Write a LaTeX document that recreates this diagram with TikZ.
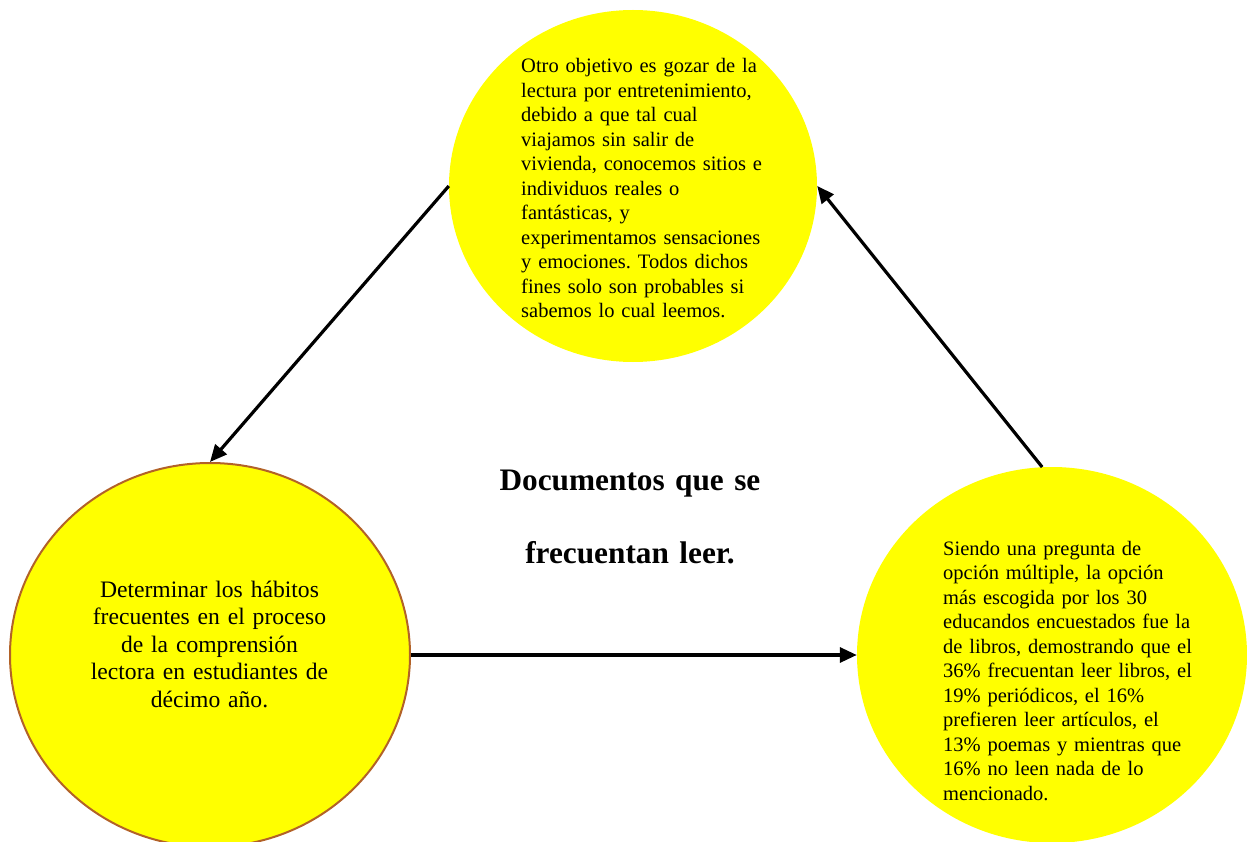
\documentclass[tikz,border=0pt]{standalone}
\usepackage{fontspec}
\setmainfont{Liberation Serif}
\usetikzlibrary{shapes.geometric,arrows.meta}
\definecolor{fillyellow}{RGB}{255,255,0}
\definecolor{rimbrown}{RGB}{178,98,40}
\frenchspacing
\begin{document}
\begin{tikzpicture}[x=1pt,y=-1pt,
  bubble/.style={ellipse,fill=fillyellow,inner sep=0pt},
  smalltext/.style={inner sep=0pt,text width=270pt,font=\fontsize{20.5}{24.5}\selectfont},
  bigtext/.style={inner sep=0pt,text width=300pt,align=center,font=\fontsize{23.6}{27.5}\selectfont},
  titletext/.style={inner sep=0pt,text width=400pt,align=center,font=\fontsize{31.3}{73}\selectfont\bfseries},
  link/.style={line width=3.2pt,-{Triangle[length=17pt,width=15pt]}}]
\useasboundingbox (0,0) rectangle (1247,842);

% the three bubbles
\node[bubble,minimum width=368pt,minimum height=352pt] (top) at (633,186) {};
\node[bubble,draw=rimbrown,line width=2pt,minimum width=400pt,minimum height=384pt] (left) at (210,655) {};
\node[bubble,minimum width=390pt,minimum height=376pt] (right) at (1052,655) {};

% bubble texts
\node[smalltext,align=left,anchor=base west] (toptext) at (521,73)
  {Otro objetivo es gozar de la\\
   lectura por entretenimiento,\\
   debido a que tal cual\\
   viajamos sin salir de\\
   vivienda, conocemos sitios e\\
   individuos reales o\\
   fantásticas, y\\
   experimentamos sensaciones\\
   y emociones. Todos dichos\\
   fines solo son probables si\\
   sabemos lo cual leemos.};

\node[bigtext,anchor=base] (lefttext) at (209.5,597)
  {Determinar los hábitos\\
   frecuentes en el proceso\\
   de la comprensión\\
   lectora en estudiantes de\\
   décimo año.};

\node[smalltext,align=left,anchor=base west] (righttext) at (943,555)
  {Siendo una pregunta de\\
   opción múltiple, la opción\\
   más escogida por los 30\\
   educandos encuestados fue la\\
   de libros, demostrando que el\\
   36\% frecuentan leer libros, el\\
   19\% periódicos, el 16\%\\
   prefieren leer artículos, el\\
   13\% poemas y mientras que\\
   16\% no leen nada de lo\\
   mencionado.};

% central title
\node[titletext,anchor=base] (title) at (630,490)
  {Documentos que se\\frecuentan leer.};

% connectors
\draw[link] (top.west) -- (left.north);
\draw[link] (left.east) -- (right.west);
\draw[link] (right.93) -- (top.east);
\end{tikzpicture}
\end{document}
